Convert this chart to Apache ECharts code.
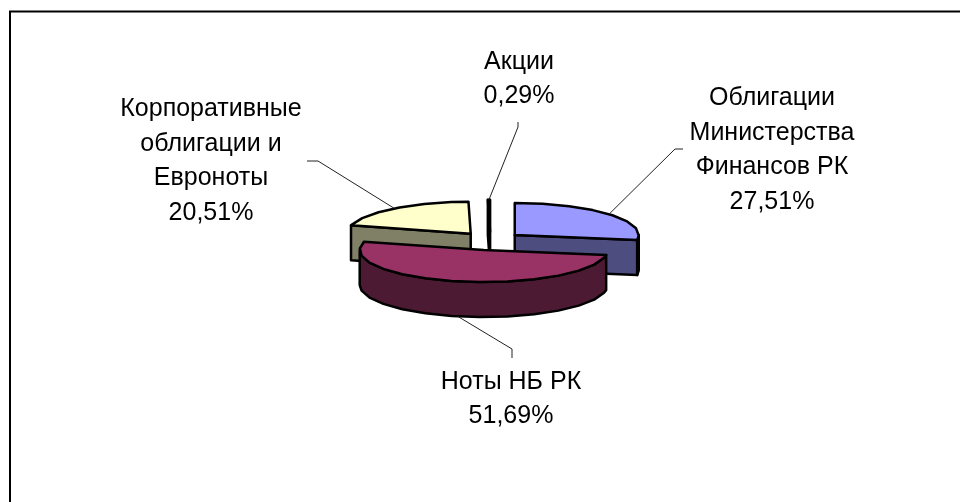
<!DOCTYPE html>
<html><head><meta charset="utf-8">
<style>html,body{margin:0;padding:0;background:#fff}#c{width:960px;height:502px}</style>
<script src="https://cdn.jsdelivr.net/npm/echarts@6/dist/echarts.min.js"></script>
</head><body><div id="c"></div>
<script>
const categories = ['Облигации\nМинистерства\nФинансов РК', 'Ноты НБ РК', 'Корпоративные\nоблигации и\nЕвроноты', 'Акции'];
const values = [27.51, 51.69, 20.51, 0.29];
const topColors = ['#9999FF', '#993366', '#FFFFCC', '#000000'];
const sideColors = ['#4D4D80', '#4D1A33', '#808066', '#000000'];
const drawOrder = [1, 3, 2, 2.5];

const pie = {cx: 490.4, cy: 241, rx: 124, ry: 32, depth: 35, explode: 32, squash: 0.29, step: 13};
const labelBoxes = [
  {x: 772, y: 150, elbow: [[683, 149], [675, 149]]},
  {x: 511, y: 399, elbow: [[512, 358], [512, 349]]},
  {x: 211, y: 161, elbow: [[307, 161], [318, 161]]},
  {x: 519, y: 79,  elbow: [[518, 122], [518, 127]]}
];
const font = '25px "Liberation Sans", Arial, sans-serif';
const lineH = 34.6;

const rad = d => d * Math.PI / 180;
const total = values.reduce((a, b) => a + b, 0);
let run = 0;
const slices = values.map(v => { const s = run; run += v; return {start: s / total * 360, end: run / total * 360}; });

function renderItem(params, api) {
  const i = params.dataIndex;
  const value = api.value(0);
  const {start, end} = slices[i];
  const mid = (start + end) / 2;
  const ax = pie.cx + pie.explode * Math.sin(rad(mid));
  const ay = pie.cy - pie.explode * pie.squash * Math.cos(rad(mid));
  const pt = (a, dz) => [ax + pie.rx * Math.sin(rad(a)), ay - pie.ry * Math.cos(rad(a)) + (dz || 0)];
  const arc = (a, b, dz) => {
    const out = [pt(a, dz)];
    for (let t = Math.ceil(a / pie.step + 0.01) * pie.step; t < b; t += pie.step) out.push(pt(t, dz));
    out.push(pt(b, dz));
    return out;
  };
  const stroke = {stroke: '#000', lineWidth: 2.5, lineJoin: 'round'};
  const z = drawOrder[i] * 10;
  const children = [];
  const face = (a, visible) => {
    if (!visible) return;
    const p = pt(a), d = pt(a, pie.depth);
    children.push({type: 'polygon', z2: z, shape: {points: [[ax, ay], p, d, [ax, ay + pie.depth]]},
      style: Object.assign({fill: sideColors[i]}, stroke)});
  };
  face(start, -Math.cos(rad(start - 90)) > 0);
  face(end, -Math.cos(rad(end + 90)) > 0);
  const a0 = Math.max(start, 90), a1 = Math.min(end, 270);
  if (a1 > a0) {
    const upper = arc(a0, a1, 0), lower = arc(a0, a1, pie.depth).reverse();
    children.push({type: 'polygon', z2: z + 1, shape: {points: upper.concat(lower)},
      style: Object.assign({fill: sideColors[i]}, stroke)});
  }
  children.push({type: 'polygon', z2: z + 2, shape: {points: [[ax, ay]].concat(arc(start, end, 0))},
    style: Object.assign({fill: topColors[i]}, stroke)});

  const box = labelBoxes[i];
  const facingFront = Math.cos(rad(mid)) < 0;
  const tip = pt(mid, facingFront ? pie.depth : 0);
  children.push({type: 'polyline', z2: 100, shape: {points: box.elbow.concat([tip])},
    style: {stroke: '#222', lineWidth: 1, fill: null}});
  children.push({type: 'text', z2: 101, style: {
    text: categories[i] + '\n' + value.toFixed(2).replace('.', ',') + '%',
    x: box.x, y: box.y, align: 'center', verticalAlign: 'middle',
    font: font, lineHeight: lineH, fill: '#000'}});
  return {type: 'group', children};
}

const chart = echarts.init(document.getElementById('c'), null, {renderer: 'canvas'});
chart.setOption({
  animation: false,
  backgroundColor: '#fff',
  graphic: [
    {type: 'polyline', z: 0, shape: {points: [[10, 503], [10, 11.5], [961, 11.5]]},
     style: {stroke: '#000', lineWidth: 2, fill: null}}
  ],
  series: [{
    type: 'custom', coordinateSystem: 'none', silent: true,
    renderItem,
    data: values.map((v, i) => ({name: categories[i], value: [v]}))
  }]
});
</script></body></html>
